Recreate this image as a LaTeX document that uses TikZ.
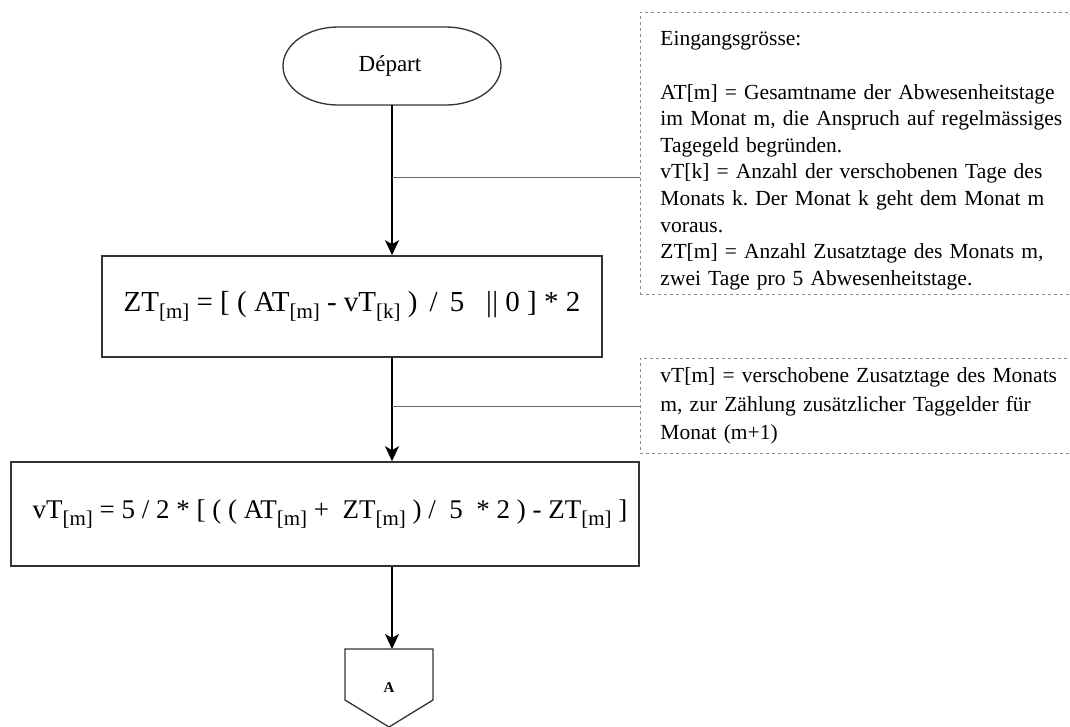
\documentclass[tikz,border=0pt]{standalone}
\usepackage{fontspec}
\setmainfont{Liberation Serif}
\usepackage{tikz}
\usetikzlibrary{arrows.meta, positioning, calc}
\frenchspacing

% lowered index as in the formulas
\newcommand{\idx}[1]{\raisebox{-7pt}{\fontsize{21}{21}\selectfont[#1]}}

\tikzset{
  flowbox/.style={draw=black!80, line width=1.6pt, minimum width=500pt, minimum height=101pt, inner sep=0pt},
  notebox/.style={draw=black!45, dashed, line width=0.9pt, anchor=north west, align=left,
    text width=420pt, inner xsep=20pt, font=\fontsize{21.5}{26.6}\selectfont},
  flowarrow/.style={draw=black, line width=1.4pt, -{Stealth[length=15pt, width=14pt, inset=4pt]}},
  link/.style={draw=black!60, line width=0.9pt}
}

\begin{document}
\begin{tikzpicture}[x=1pt, y=-1pt]
      \useasboundingbox (0,0) rectangle (1070,726);

      % Start
      \node[font=\fontsize{23}{26}\selectfont] (start) at (390,66) {Départ};
      \draw[black!80, line width=1.3pt] (338,27) -- (446,27) arc (-90:90:55 and 39)
        -- (338,105) arc (90:270:55 and 39) -- cycle;
      \coordinate (startbot) at (392,105);

      % Process boxes
      \node[flowbox, font=\fontsize{29}{32}\selectfont] (zt) at (352,306.5)
        {ZT\idx{m} = [ ( AT\idx{m} - vT\idx{k} ) \,/\, 5 \ \ |\kern0.5pt| 0 ] * 2};
      \node[flowbox, minimum width=628pt, minimum height=104pt, font=\fontsize{27}{32}\selectfont] (vt) at (325,514)
        {\hspace*{10pt}vT\idx{m} = 5 / 2 * [ ( ( AT\idx{m} + \ ZT\idx{m} ) / \ 5 \ * 2 ) - ZT\idx{m} ]};

      % Notes
      \node[notebox, minimum height=282pt] (note1) at (640,12) {%
        \rule{0pt}{29pt}Eingangsgrösse:\\[26.6pt]
        AT[m] = Gesamtname der Abwesenheitstage\\
        im Monat m, die Anspruch auf regelmässiges\\
        Tagegeld begründen.\\
        vT[k] = Anzahl der verschobenen Tage des\\
        Monats k. Der Monat k geht dem Monat m\\
        voraus.\\
        ZT[m] = Anzahl Zusatztage des Monats m,\\
        zwei Tage pro 5 Abwesenheitstage.};
      \node[notebox, minimum height=95pt, font=\fontsize{21.5}{28.5}\selectfont] (note2) at (640,358) {%
        vT[m] = verschobene Zusatztage des Monats\\
        m, zur Zählung zusätzlicher Taggelder für\\
        Monat (m+1)};

      % Off-page connector
      \node[font=\fontsize{15}{18}\selectfont\bfseries] (offA) at (389,688) {A};
      \coordinate (pTL) at (345,649);
      \coordinate (pTR) at (433,649);
      \draw[black!80, line width=1.3pt] (pTL) -- (pTR) -- (433,700) -- (389,727) -- (345,700) -- cycle;

      % Flow
      \draw[flowarrow] (startbot) -- (startbot |- zt.north);
      \draw[flowarrow] (startbot |- zt.south) -- (startbot |- vt.north);
      \draw[flowarrow] (startbot |- vt.south) -- (startbot |- pTL);

      % Links to the notes
      \coordinate (j1) at (392,177);
      \draw[link] (j1) -- (j1 -| note1.west);
      \coordinate (j2) at (startbot |- note2.west);
      \draw[link] (j2) -- (note2.west);

    \end{tikzpicture}
\end{document}
